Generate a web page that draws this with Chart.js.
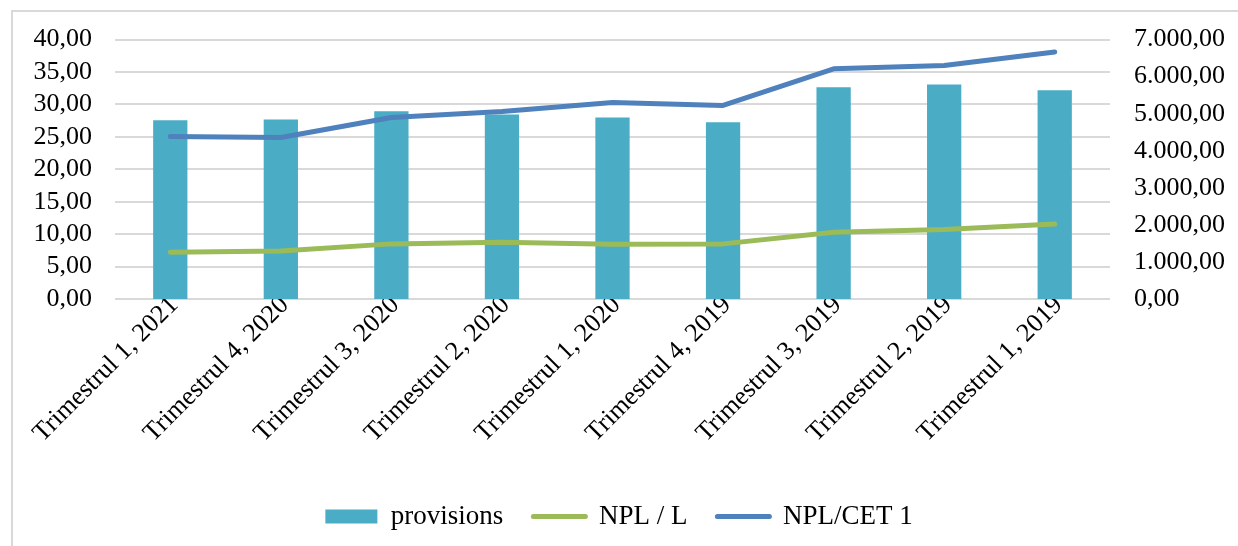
<!DOCTYPE html>
<html>
<head>
<meta charset="utf-8">
<script src="https://cdn.jsdelivr.net/npm/chart.js@4.4.1/dist/chart.umd.min.js"></script>
<style>
  html, body { margin: 0; padding: 0; background: #fff; }
  #wrap { position: relative; width: 1238px; height: 546px; overflow: hidden; }
  #frame { position: absolute; left: 11px; top: 10px; width: 1300px; height: 600px;
           border-top: 2px solid #d9d9d9; border-left: 2px solid #d9d9d9; }
  canvas { position: absolute; left: 0; top: 0; }
</style>
</head>
<body>
<div id="wrap">
  <div id="frame"></div>
  <canvas id="myChart" width="1238" height="546"></canvas>
</div>
<script>
//=============================== DATA ===============================//
var quarters = ["Trimestrul 1, 2021", "Trimestrul 4, 2020", "Trimestrul 3, 2020", "Trimestrul 2, 2020",
                "Trimestrul 1, 2020", "Trimestrul 4, 2019", "Trimestrul 3, 2019", "Trimestrul 2, 2019",
                "Trimestrul 1, 2019"];
var provisions = [4825, 4845, 5065, 4980, 4900, 4770, 5715, 5785, 5630];
var nplL = [7.2, 7.4, 8.5, 8.75, 8.45, 8.5, 10.3, 10.7, 11.55];
var nplCet1 = [25.05, 24.9, 28.0, 28.9, 30.3, 29.85, 35.5, 36.0, 38.1];

var leftTicks = [0, 5, 10, 15, 20, 25, 30, 35, 40];
var rightTicks = [0, 1000, 2000, 3000, 4000, 5000, 6000, 7000];

// 7000 -> "7.000,00"
function roFormat(v){
    var parts = Number(v).toFixed(2).split(".");
    parts[0] = parts[0].replace(/\B(?=(\d{3})+(?!\d))/g, ".");
    return parts[0] + "," + parts[1];
}

var serif = "'Liberation Serif', 'Times New Roman', serif";
Chart.defaults.font.family = serif;
Chart.defaults.color = "#000";

new Chart("myChart", {
  type: "bar",
  data: {
    labels: quarters,
    datasets: [{
        label: "provisions",
        data: provisions,
        yAxisID: "y1",
        backgroundColor: "#4bacc6",
        borderWidth: 0,
        barPercentage: 0.31,
        categoryPercentage: 1,
        order: 2
    },{
        type: "line",
        label: "NPL / L",
        data: nplL,
        yAxisID: "y",
        borderColor: "#9bbb59",
        backgroundColor: "#9bbb59",
        borderWidth: 5,
        borderCapStyle: "round",
        borderJoinStyle: "round",
        pointRadius: 0,
        tension: 0,
        fill: false,
        order: 1
    },{
        type: "line",
        label: "NPL/CET 1",
        data: nplCet1,
        yAxisID: "y",
        borderColor: "#4f81bd",
        backgroundColor: "#4f81bd",
        borderWidth: 5,
        borderCapStyle: "round",
        borderJoinStyle: "round",
        pointRadius: 0,
        tension: 0,
        fill: false,
        order: 0
    }]
  },
  options: {
    responsive: false,
    animation: false,
    layout: { padding: { top: 34, left: 0, right: 0, bottom: 6 } },
    plugins: {
      tooltip: { enabled: false },
      legend: {
        position: "bottom",
        labels: {
          usePointStyle: true,
          pointStyleWidth: 52,
          boxHeight: 14,
          padding: 30,
          color: "#000",
          font: { size: 27, family: serif },
          generateLabels: function(chart){
            return chart.data.datasets.map(function(ds, i){
              var isBar = !ds.type;
              return {
                text: ds.label,
                fillStyle: ds.backgroundColor,
                strokeStyle: isBar ? ds.backgroundColor : ds.borderColor,
                lineWidth: isBar ? 0 : 5,
                lineCap: "round",
                pointStyle: isBar ? "rect" : "line",
                hidden: false,
                datasetIndex: i,
                fontColor: "#000"
              };
            });
          }
        }
      }
    },
    scales: {
      x: {
        grid: { display: false, drawTicks: false },
        border: { display: false },
        ticks: { minRotation: 45, maxRotation: 45, padding: -9, labelOffset: 4, autoSkip: false,
                 font: { size: 26 }, color: "#000" },
        afterFit: function(s){ s.height = 174; }
      },
      y: {
        position: "left",
        min: 0, max: 40,
        afterBuildTicks: function(s){ s.ticks = leftTicks.map(function(v){ return {value: v}; }); },
        ticks: { padding: 23, autoSkip: false, font: { size: 26 }, color: "#000",
                 callback: function(v){ return roFormat(v); } },
        grid: { color: "#d9d9d9", lineWidth: 2, drawTicks: false },
        border: { display: false },
        afterFit: function(s){ s.width = 115; }
      },
      y1: {
        position: "right",
        min: 0, max: 7000,
        afterBuildTicks: function(s){ s.ticks = rightTicks.map(function(v){ return {value: v}; }); },
        ticks: { padding: 24, autoSkip: false, font: { size: 26 }, color: "#000",
                 callback: function(v){ return roFormat(v); } },
        grid: { display: false, drawTicks: false },
        border: { display: false },
        afterFit: function(s){ s.width = 128; }
      }
    }
  }
});
</script>
</body>
</html>
